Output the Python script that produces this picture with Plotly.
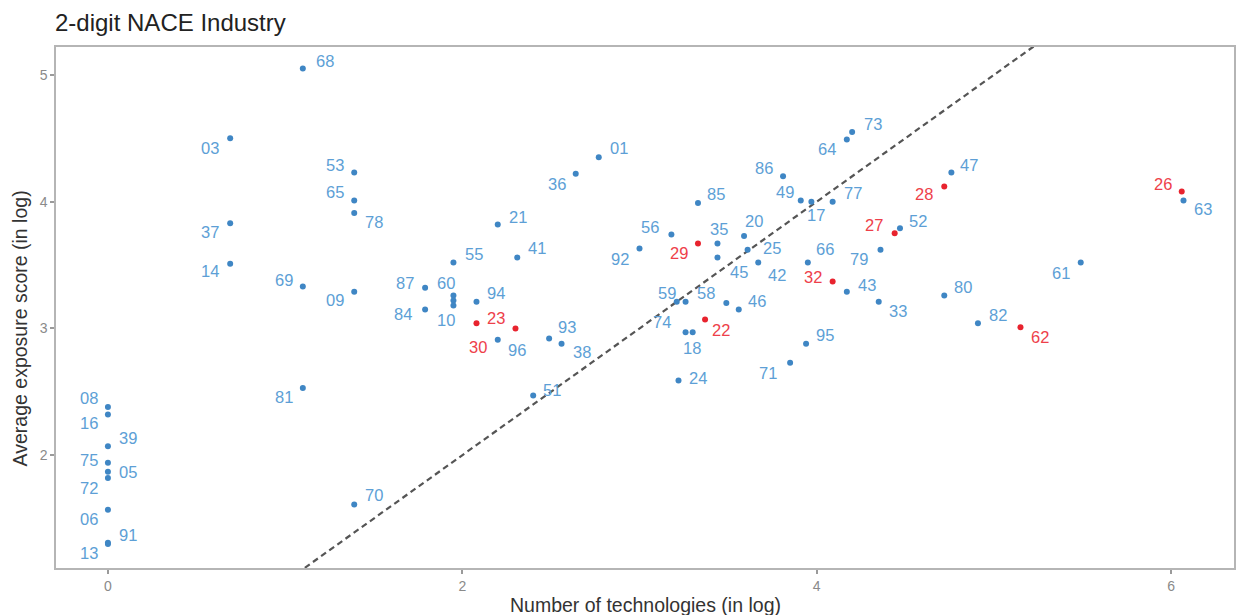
import plotly.graph_objects as go

# NACE 2-digit industries: number of technologies (log) vs. average exposure score (log)
codes = ["68", "03", "53", "65", "78", "37", "14", "69", "09", "81", "70",
         "87", "84", "60", "", "10", "55", "21", "41", "94", "23", "30", "96",
         "93", "38", "51", "36", "01", "92", "56", "29", "85", "35", "45", "20",
         "25", "42", "66", "59", "58", "74", "18", "", "46", "22", "24", "71",
         "95", "86", "49", "17", "77", "64", "73", "47", "28", "27", "52", "79",
         "32", "43", "33", "80", "82", "62", "61", "26", "63",
         "08", "16", "39", "75", "05", "72", "06", "91", "13"]
n_tech_log = [1.10, 0.69, 1.39, 1.39, 1.39, 0.69, 0.69, 1.10, 1.39, 1.10, 1.39,
              1.79, 1.79, 1.95, 1.95, 1.95, 1.95, 2.20, 2.31, 2.08, 2.08, 2.30, 2.20,
              2.49, 2.56, 2.40, 2.64, 2.77, 3.00, 3.18, 3.33, 3.33, 3.44, 3.44, 3.59,
              3.61, 3.67, 3.95, 3.21, 3.26, 3.26, 3.30, 3.49, 3.56, 3.37, 3.22, 3.85,
              3.94, 3.81, 3.91, 3.97, 4.09, 4.17, 4.20, 4.76, 4.72, 4.44, 4.47, 4.36,
              4.09, 4.17, 4.35, 4.72, 4.91, 5.15, 5.49, 6.06, 6.07,
              0.00, 0.00, 0.00, 0.00, 0.00, 0.00, 0.00, 0.00, 0.00]
exposure_log = [5.05, 4.50, 4.23, 4.01, 3.91, 3.83, 3.51, 3.33, 3.29, 2.53, 1.61,
                3.32, 3.15, 3.26, 3.22, 3.18, 3.52, 3.82, 3.56, 3.21, 3.04, 3.00, 2.91,
                2.92, 2.88, 2.47, 4.22, 4.35, 3.63, 3.74, 3.67, 3.99, 3.67, 3.56, 3.73,
                3.62, 3.52, 3.52, 3.21, 3.21, 2.97, 2.97, 3.20, 3.15, 3.07, 2.59, 2.73,
                2.88, 4.20, 4.01, 4.00, 4.00, 4.49, 4.55, 4.23, 4.12, 3.75, 3.79, 3.62,
                3.37, 3.29, 3.21, 3.26, 3.04, 3.01, 3.52, 4.08, 4.01,
                2.38, 2.32, 2.07, 1.94, 1.87, 1.82, 1.57, 1.31, 1.30]
highlighted = ["22", "23", "26", "27", "28", "29", "30", "32", "62"]

x_ticks = [0, 2, 4, 6]
y_ticks = [2, 3, 4, 5]

# label placement (pixel offsets from each point; +dy is downwards)
label_offset = {
    "68": (22, -8), "03": (-20, 10), "53": (-19, -8), "65": (-19, -8), "78": (20, 9),
    "37": (-20, 9), "14": (-20, 7), "69": (-19, -7), "09": (-19, 8), "81": (-19, 9),
    "70": (20, -10), "87": (-20, -5), "84": (-22, 5), "60": (-7, -12), "10": (-7, 14),
    "55": (21, -9), "21": (20, -7), "41": (20, -9), "94": (20, -9), "23": (20, -5),
    "30": (-37, 19), "96": (19, 10), "93": (18, -12), "38": (20, 8), "51": (19, -6),
    "36": (-19, 10), "01": (20, -9), "92": (-20, 10), "56": (-21, -8), "29": (-19, 10),
    "85": (18, -9), "35": (2, -14), "45": (22, 15), "20": (10, -15), "25": (24, -2),
    "42": (19, 12), "66": (17, -14), "59": (-10, -9), "58": (20, -9), "74": (-24, -10),
    "18": (-1, 16), "46": (18, -8), "22": (16, 10), "24": (20, -2), "71": (-22, 10),
    "95": (19, -9), "86": (-19, -8), "49": (-16, -8), "17": (5, 13), "77": (20, -9),
    "64": (-20, 9), "73": (21, -8), "47": (18, -8), "28": (-20, 8), "27": (-21, -8),
    "52": (18, -7), "79": (-21, 9), "32": (-20, -5), "43": (20, -7), "33": (19, 9),
    "80": (19, -8), "82": (20, -8), "62": (20, 10), "61": (-20, 10), "26": (-19, -8),
    "63": (19, 9), "08": (-19, -9), "16": (-19, 8), "39": (20, -8), "75": (-19, -3),
    "05": (20, 0), "72": (-19, 10), "06": (-19, 9), "91": (20, -8), "13": (-19, 9),
}

BLUE_DOT, BLUE_TXT = "#3f86c4", "#5d9fd6"
RED_DOT, RED_TXT = "#e8232e", "#ee3f4a"
FONT = "Liberation Sans, Arial, sans-serif"

fig = go.Figure()

# 45-degree reference line
fig.add_trace(go.Scatter(
    x=[-1, 7], y=[-1, 7], mode="lines",
    line=dict(color="#555555", width=2.2, dash="6px,4px"),
    hoverinfo="skip", showlegend=False))

is_red = [c in highlighted for c in codes]
fig.add_trace(go.Scatter(
    x=n_tech_log, y=exposure_log, mode="markers", text=codes,
    marker=dict(size=6, color=[RED_DOT if r else BLUE_DOT for r in is_red]),
    showlegend=False))

annotations = []
for c, xv, yv, r in zip(codes, n_tech_log, exposure_log, is_red):
    if not c:
        continue
    dx, dy = label_offset.get(c, (18, -8))
    annotations.append(dict(
        x=xv, y=yv, text=c, showarrow=False, xshift=dx, yshift=-dy,
        font=dict(family=FONT, size=16.5, color=RED_TXT if r else BLUE_TXT)))

annotations += [
    dict(text="Number of technologies (in log)", xref="paper", yref="paper",
         x=0.5, y=-0.071, xanchor="center", yanchor="middle", showarrow=False,
         font=dict(family=FONT, size=19.5, color="#333333")),
    dict(text="Average exposure score (in log)", xref="paper", yref="paper",
         x=-0.0305, y=0.46, xanchor="center", yanchor="middle", textangle=-90,
         showarrow=False, font=dict(family=FONT, size=19.5, color="#333333")),
]

axis_common = dict(showgrid=False, zeroline=False, showline=True, mirror=True,
                   linecolor="#b5b5b5", linewidth=1.5, ticks="outside", ticklen=4,
                   tickcolor="#9a9a9a", tickwidth=1.5,
                   tickfont=dict(family=FONT, size=14, color="#8a8a8a"))

fig.update_layout(
    width=1239, height=615,
    margin=dict(l=56, r=3, t=47, b=47),
    paper_bgcolor="white", plot_bgcolor="white",
    title=dict(text="2-digit NACE Industry", xref="container", yref="container",
               x=55 / 1239, y=1 - 23 / 615, xanchor="left", yanchor="middle",
               font=dict(family=FONT, size=24, color="#222222")),
    xaxis=dict(range=[-0.293, 6.355], tickvals=x_ticks, **axis_common),
    yaxis=dict(range=[1.11, 5.22], tickvals=y_ticks, **axis_common),
    annotations=annotations,
)

fig.write_html("out.html")
